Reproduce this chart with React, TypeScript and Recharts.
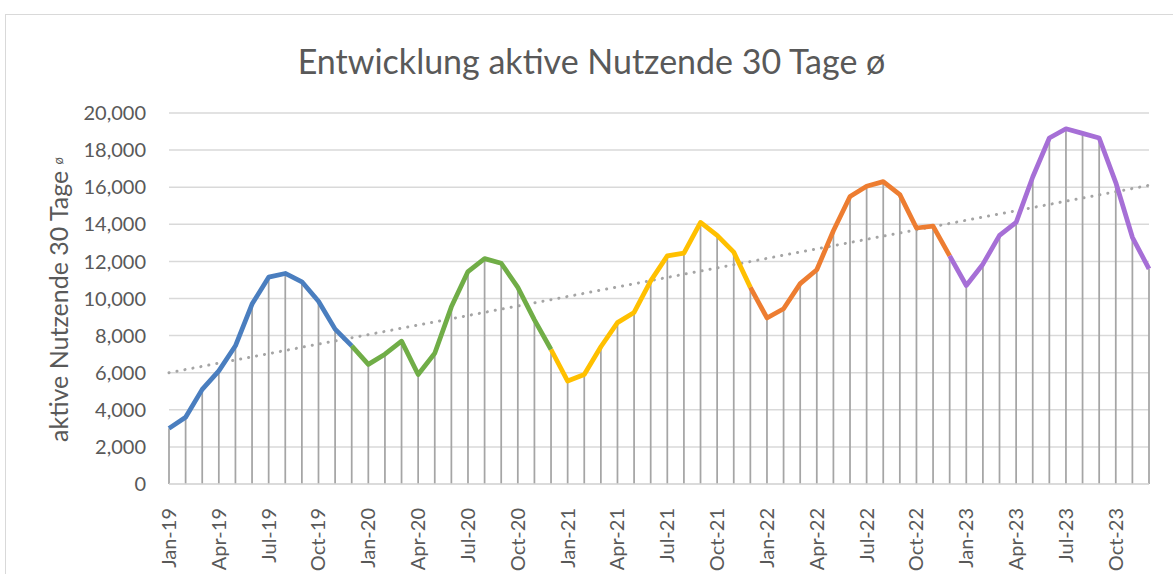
import React from "react";
import { ComposedChart, Line, XAxis, YAxis, CartesianGrid, ErrorBar } from "recharts";

// monthly averages
const YEARS = ["19", "20", "21", "22", "23"];
const MONTH_NAMES = ["Jan", "Feb", "Mar", "Apr", "May", "Jun", "Jul", "Aug", "Sep", "Oct", "Nov", "Dec"];

const users2019 = [3000, 3600, 5100, 6100, 7450, 9700, 11150, 11350, 10900, 9850, 8350, 7450];
const users2020 = [6450, 7000, 7700, 5900, 7050, 9550, 11450, 12150, 11900, 10600, 8850, 7250];
const users2021 = [5550, 5900, 7400, 8700, 9250, 10950, 12300, 12450, 14100, 13400, 12500, 10600];
const users2022 = [8950, 9450, 10800, 11550, 13650, 15500, 16050, 16300, 15600, 13800, 13900, 12300];
const users2023 = [10700, 11850, 13400, 14100, 16550, 18650, 19150, 18900, 18650, 16250, 13300, 11600];

const yearSeries = [users2019, users2020, users2021, users2022, users2023];
const yearColors = ["#4A7EBF", "#70AD47", "#FFC000", "#ED7D31", "#A66FD6"];

// linear trend endpoints as seen in the picture
const TREND_START = 6000;
const TREND_END = 16100;

const Y_TICKS = [0, 2000, 4000, 6000, 8000, 10000, 12000, 14000, 16000, 18000, 20000];

const TEXT = "#595959";
const FONT = "Lato, 'Open Sans', sans-serif";

type Row = { [k: string]: any };

const rows: Row[] = [];
yearSeries.forEach((vals, yi) => {
  vals.forEach((v, mi) => {
    rows.push({ month: `${MONTH_NAMES[mi]}-${YEARS[yi]}`, users: v, drop: [v, 0], yi, mi });
  });
});
rows.forEach((r, i) => {
  YEARS.forEach((y, yi) => {
    const inYear = r.yi === yi;
    // segment into January takes the colour of the new year
    const prevDec = r.yi === yi - 1 && r.mi === 11;
    r[`y${y}`] = inYear || prevDec ? r.users : null;
  });
  r.trend = i === 0 ? TREND_START : i === rows.length - 1 ? TREND_END : null;
});

const XTick = (props: any) => {
  const { x, y, payload } = props;
  return (
    <text
      x={x}
      y={y}
      transform={`rotate(-90, ${x}, ${y})`}
      textAnchor="end"
      dy="0.35em"
      dx={-16}
      fill={TEXT}
      fontSize={20}
      fontFamily={FONT}
    >
      {payload.value}
    </text>
  );
};

const YLabel = (props: any) => {
  const { viewBox } = props;
  const cx = viewBox.x + 58;
  const cy = viewBox.y + viewBox.height / 2 + 1;
  return (
    <text
      x={cx}
      y={cy}
      transform={`rotate(-90, ${cx}, ${cy})`}
      textAnchor="middle"
      dominantBaseline="central"
      fill={TEXT}
      fontSize={25}
      fontFamily={FONT}
    >
      aktive Nutzende 30 Tage <tspan fontSize={13}>ø</tspan>
    </text>
  );
};

export default function App() {
  return (
    <div style={{ position: "fixed", left: 0, top: 0, width: 1173, height: 574, background: "#fff", fontFamily: FONT }}>
      <div
        style={{
          position: "absolute",
          left: 5,
          top: 14,
          right: 0,
          bottom: 0,
          borderLeft: "1.5px solid #D9D9D9",
          borderTop: "1.5px solid #D9D9D9",
        }}
      />
      <div
        style={{
          position: "absolute",
          left: 10,
          width: 1163,
          top: 41,
          textAlign: "center",
          fontSize: 34,
          lineHeight: "40px",
          color: TEXT,
        }}
      >
        Entwicklung aktive Nutzende 30 Tage ø
      </div>
      <div style={{ position: "absolute", left: 0, top: 0 }}>
        <ComposedChart width={1173} height={574} data={rows} margin={{ top: 113, right: 24, bottom: 0, left: 0 }}>
          <CartesianGrid vertical={false} stroke="#D9D9D9" strokeWidth={1.5} />
          <XAxis
            dataKey="month"
            interval={2}
            height={90}
            tick={<XTick />}
            tickLine={false}
            axisLine={{ stroke: "#D9D9D9", strokeWidth: 1.5 }}
            padding={{ left: 0, right: 0 }}
          />
          <YAxis
            width={169}
            domain={[0, 20000]}
            ticks={Y_TICKS}
            tickFormatter={(v: number) => v.toLocaleString("en-US")}
            tick={{ fill: TEXT, fontSize: 20, fontFamily: FONT }}
            tickSize={0}
            tickMargin={23}
            axisLine={false}
            label={<YLabel />}
          />
          <Line dataKey="users" stroke="none" dot={false} isAnimationActive={false} legendType="none">
            <ErrorBar dataKey="drop" direction="y" width={0} stroke="#A5A5A5" strokeWidth={1.75} isAnimationActive={false} />
          </Line>
          <Line
            dataKey="trend"
            connectNulls
            stroke="#A5A5A5"
            strokeWidth={3}
            strokeDasharray="0.1 8"
            strokeLinecap="round"
            dot={false}
            isAnimationActive={false}
          />
          {YEARS.map((y, i) => (
            <Line
              key={y}
              dataKey={`y${y}`}
              stroke={yearColors[i]}
              strokeWidth={4.75}
              strokeLinejoin="round"
              dot={false}
              isAnimationActive={false}
            />
          ))}
        </ComposedChart>
      </div>
    </div>
  );
}
